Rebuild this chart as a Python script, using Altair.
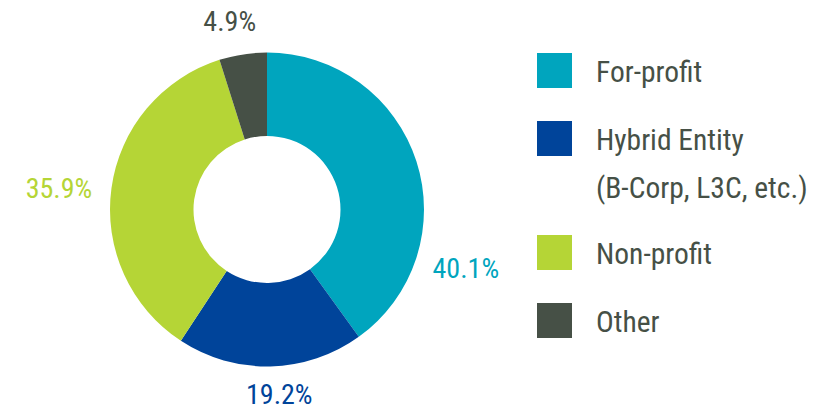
import altair as alt
import pandas as pd

categories = ["For-profit", "Hybrid Entity (B-Corp, L3C, etc.)", "Non-profit", "Other"]
values = [40.1, 19.2, 35.9, 4.9]
colors = ["#00A5BE", "#00449A", "#B5D536", "#465046"]

total = sum(values)
df = pd.DataFrame({"category": categories, "value": values, "idx": list(range(len(categories)))})
df["pct"] = [f"{v:.1f}%" for v in values]
legend_labels = [c.replace(" (", "\n(") for c in categories]
df["leglabel"] = legend_labels
extra = [l.count("\n") for l in legend_labels]
df["extra_before"] = [sum(extra[:i]) for i in range(len(extra))]

FONT = "Roboto Condensed, Liberation Sans Narrow, DejaVu Sans Condensed, sans-serif"
TEXT_COLOR = "#465046"
color_scale = alt.Scale(domain=categories, range=colors)
theta_scale = alt.Scale(domain=[0, total])
CX, CY = 259, 201.5

base = alt.Chart(df)

arcs = base.mark_arc(outerRadius=157, innerRadius=73.5).encode(
    theta=alt.Theta("value:Q", stack=True, scale=theta_scale),
    order=alt.Order("idx:Q"),
    color=alt.Color("category:N", scale=color_scale, legend=None),
    x=alt.value(CX),
    y=alt.value(CY),
)

labels = base.transform_stack(
    stack="value", groupby=[], as_=["s0", "s1"], sort=[alt.SortField("idx")]
).transform_calculate(
    lt="(datum.s0 + datum.s1) / 2 - 0.007 * %f + (datum.category == 'For-profit' ? 0.104 * %f : 0)" % (total, total),
).transform_calculate(
    r="185 + 24 * abs(sin(datum.lt / %f * 2 * PI))" % total,
).mark_text(font=FONT, fontSize=28, align="center", baseline="middle").encode(
    theta=alt.Theta("lt:Q", scale=theta_scale),
    radius=alt.Radius("r:Q", scale=None),
    text="pct:N",
    color=alt.Color("category:N", scale=color_scale, legend=None),
    x=alt.value(CX),
    y=alt.value(CY),
)

squares = base.transform_calculate(
    ly="62.5 + 68 * datum.idx + 46 * datum.extra_before",
).mark_square(size=1225, opacity=1, strokeWidth=0).encode(
    x=alt.value(546.5),
    y=alt.Y("ly:Q", scale=None),
    color=alt.Color("category:N", scale=color_scale, legend=None),
)

legtext = base.transform_calculate(
    ly="62.5 + 68 * datum.idx + 46 * datum.extra_before",
).mark_text(
    font=FONT, fontSize=29.5, align="left", baseline="alphabetic",
    dy=11, lineBreak="\n", lineHeight=48, color=TEXT_COLOR,
).encode(
    x=alt.value(588),
    y=alt.Y("ly:Q", scale=None),
    text="leglabel:N",
)

chart = alt.layer(arcs, labels, squares, legtext).properties(
    width=807, height=403,
    padding=0,
    autosize=alt.AutoSizeParams(type="fit", contains="padding"),
).configure_view(stroke=None)

chart.save("out.html", embed_options={"renderer": "svg", "actions": False})
